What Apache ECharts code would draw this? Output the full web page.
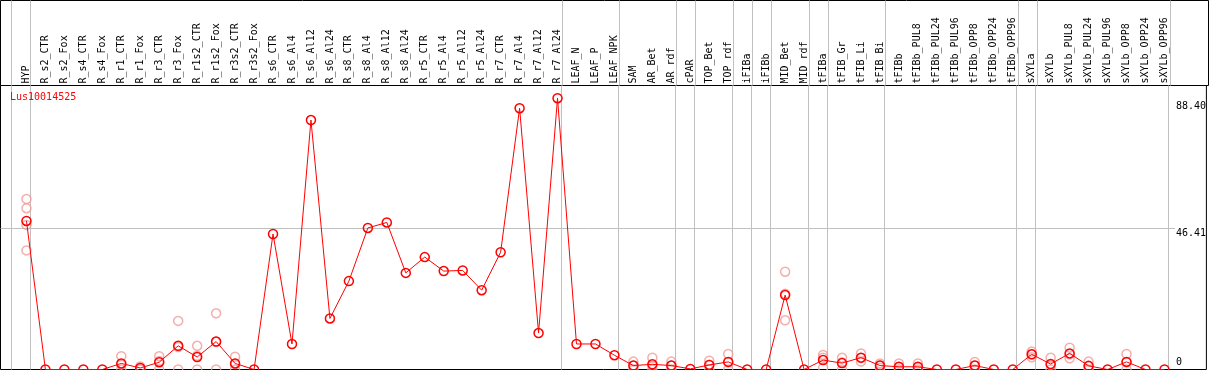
<!DOCTYPE html>
<html><head><meta charset="utf-8">
<script src="https://cdn.jsdelivr.net/npm/echarts@6/dist/echarts.min.js"></script>
<style>html,body{margin:0;padding:0;background:#fff}#c{width:1209px;height:370px}</style>
</head><body><div id="c"></div>
<script>
const seriesName = 'Lus10014525';
const categories = ['HYP','R_s2_CTR','R_s2_Fox','R_s4_CTR','R_s4_Fox','R_r1_CTR','R_r1_Fox','R_r3_CTR','R_r3_Fox','R_r1s2_CTR','R_r1s2_Fox','R_r3s2_CTR','R_r3s2_Fox','R_s6_CTR','R_s6_Al4','R_s6_Al12','R_s6_Al24','R_s8_CTR','R_s8_Al4','R_s8_Al12','R_s8_Al24','R_r5_CTR','R_r5_Al4','R_r5_Al12','R_r5_Al24','R_r7_CTR','R_r7_Al4','R_r7_Al12','R_r7_Al24','LEAF_N','LEAF_P','LEAF_NPK','SAM','AR_Bet','AR_rdf','cPAR','TOP_Bet','TOP_rdf','iFIBa','iFIBb','MID_Bet','MID_rdf','tFIBa','tFIB_Gr','tFIB_Li','tFIB_Bi','tFIBb','tFIBb_PUL8','tFIBb_PUL24','tFIBb_PUL96','tFIBb_OPP8','tFIBb_OPP24','tFIBb_OPP96','sXYLa','sXYLb','sXYLb_PUL8','sXYLb_PUL24','sXYLb_PUL96','sXYLb_OPP8','sXYLb_OPP24','sXYLb_OPP96'];
const meanValues = [48.9,0,0,0,0,2.0,0.5,2.4,7.8,4.1,9.2,2.0,0,44.6,8.4,82.1,16.8,29.1,46.6,48.4,31.8,37.0,32.4,32.6,26.1,38.6,86.0,12.0,89.3,8.4,8.4,4.7,1.3,1.7,1.3,0.2,1.5,2.5,0,0,24.5,0,3.1,2.1,3.9,1.3,0.9,0.9,0,0,1.3,0,0,5.0,1.8,5.3,1.2,0,2.5,0,0];
const replicates = [
  [56.1,53.1,47.6,39.2],[],[],[],[],[4.4,1.6,0],[1.0,0.5,0],[4.4,2.8,0],[16.0,7.4,0],[7.8,4.5,0],
  [18.5,9.1,0],[4.2,1.8,0],[],[],[],[],[],[],[],[],
  [],[],[],[],[],[],[],[],[],[],
  [],[],[2.6,1.2,0],[3.9,1.2,0],[2.6,1.3,0],[],[2.9,1.6,0],[5.1,2.4,0],[],[],
  [32.2,24.9,16.2],[],[4.8,3.9,0.6],[3.9,2.3,0],[5.3,3.8,2.6],[2.0,1.3,0.6],[2.0,0.7,0],[2.0,0.7,0],[],[],
  [2.5,1.3,0],[],[],[5.9,5.0,4.0],[3.9,1.5,0],[7.2,5.0,3.7],[2.6,1.0,0],[],[5.1,2.4,0],[],
  []
];
const yTickLabels = [46.41, 88.40];
const yGridValue = 46.41;
const separatorAfter = [-1,0,28,31,34,35,37,38,39,41,42,45,52,53,60];

const X_MIN = -1.3684, X_MAX = 62.2105, Y_MAX = 93.479;
const FONT = 'DejaVu Sans Mono';
const sepLine = {color:'#c0c0c0', width:1, type:'solid'};
const sepData = separatorAfter.map(b => ({xAxis: b + 0.21}));

const mainData = meanValues.map((v,i) => [i, v]);
const repData = [];
replicates.forEach((arr,i) => arr.forEach(v => repData.push([i, v])));

const chart = echarts.init(document.getElementById('c'), null, {renderer:'canvas'});
chart.setOption({
  animation:false,
  backgroundColor:'#fff',
  title:{text:seriesName, left:10, top:92, padding:0,
    textStyle:{color:'#ff0000', fontSize:10, fontWeight:'normal', fontFamily:FONT}},
  grid:[
    {left:0.5, right:0.5, top:0.5, height:85, show:true, borderColor:'#000', borderWidth:1, backgroundColor:'transparent'},
    {left:0.5, right:0.5, top:85.5, bottom:0.5, show:true, borderColor:'#000', borderWidth:1, backgroundColor:'transparent'}
  ],
  xAxis:[
    {type:'value', gridIndex:0, min:X_MIN, max:X_MAX, show:false},
    {type:'value', gridIndex:1, min:X_MIN, max:X_MAX, position:'top',
      axisLine:{show:false}, axisTick:{show:false}, splitLine:{show:false},
      axisLabel:{customValues:categories.map((c,i)=>i), formatter:(v)=>categories[Math.round(v)],
        rotate:90, margin:2, color:'#000', fontSize:10, fontFamily:FONT}}
  ],
  yAxis:[
    {type:'value', gridIndex:0, min:0, max:1, show:false},
    {type:'value', gridIndex:1, min:0, max:Y_MAX, position:'right',
      axisLine:{show:false}, axisTick:{show:false}, splitLine:{show:false},
      axisLabel:{customValues:yTickLabels, formatter:(v)=>v.toFixed(2), inside:true, align:'left',
        verticalAlign:'top', margin:30.5, color:'#000', fontSize:10, fontFamily:FONT}},
    {type:'value', gridIndex:1, min:0, max:Y_MAX, position:'right',
      axisLine:{show:false}, axisTick:{show:false}, splitLine:{show:false},
      axisLabel:{customValues:[0], formatter:()=>'0', inside:true, align:'left',
        verticalAlign:'bottom', margin:30.5, padding:[0,0,2,0], color:'#000', fontSize:10, fontFamily:FONT}}
  ],
  series:[
    {type:'line', xAxisIndex:0, yAxisIndex:0, data:[], silent:true,
      markLine:{silent:true, symbol:'none', label:{show:false}, lineStyle:sepLine, data:sepData}},
    {type:'scatter', name:seriesName+' replicates', xAxisIndex:1, yAxisIndex:1, data:repData, z:2, silent:true,
      symbol:'circle', symbolSize:9,
      itemStyle:{color:'rgba(0,0,0,0)', borderColor:'#f09a9a', borderWidth:1.5}},
    {type:'line', name:seriesName, xAxisIndex:1, yAxisIndex:1, data:mainData, z:3, silent:true,
      symbol:'circle', symbolSize:9, showAllSymbol:true,
      lineStyle:{color:'#ff0000', width:1},
      itemStyle:{color:'rgba(0,0,0,0)', borderColor:'#ff0000', borderWidth:1.5},
      markLine:{silent:true, symbol:'none', label:{show:false}, lineStyle:sepLine, z:1,
        data: sepData.concat([[{coord:[X_MIN, yGridValue]},{coord:[60.55, yGridValue]}]])}}
  ]
});
</script></body></html>
